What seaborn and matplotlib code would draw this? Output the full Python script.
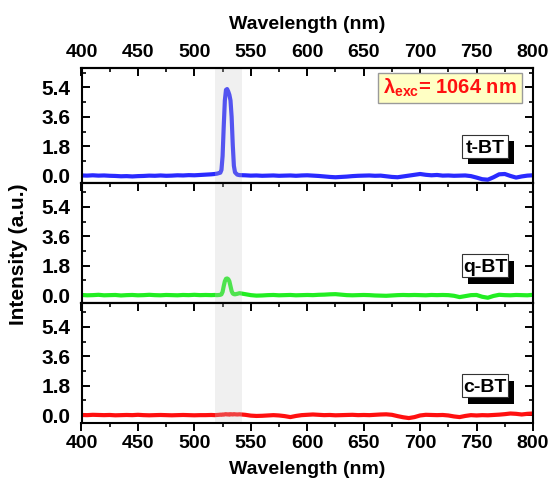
import matplotlib
matplotlib.use("Agg")
import matplotlib.pyplot as plt
from matplotlib.patches import Rectangle
from matplotlib.ticker import MultipleLocator, FixedLocator
import seaborn as sns
import pandas as pd

# Wavelength grid (nm): coarse baseline, finer sampling across the emission line
wavelength = [400, 405, 410, 415, 420, 425, 430, 435, 440, 445, 450, 455,
              460, 465, 470, 475, 480, 485, 490, 495, 500, 505, 510, 515,
              518, 520, 522, 523, 524, 525, 526, 527, 528, 529, 530, 531,
              532, 533, 534, 535, 536, 538, 540,
              545, 550, 555, 560, 565, 570, 575, 580, 585, 590, 595, 600,
              605, 610, 615, 620, 625, 630, 635, 640, 645, 650, 655, 660,
              665, 670, 675, 680, 685, 690, 695, 700, 705, 710, 715, 720,
              725, 730, 735, 740, 745, 750, 755, 760, 765, 770, 775, 780,
              785, 790, 795, 800]

t_bt = [0.01, 0.00, 0.02, 0.00, 0.01, -0.01, -0.02, -0.04, -0.03, -0.05, -0.03, -0.02,
        0.00, -0.01, 0.01, -0.01, 0.00, 0.02, 0.01, 0.03, 0.02, 0.04, 0.06, 0.08,
        0.10, 0.12, 0.16, 0.18, 0.35, 1.20, 3.00, 4.60, 5.25, 5.30, 5.15, 4.95,
        4.60, 3.60, 1.90, 0.60, 0.20, 0.06, 0.03,
        0.02, 0.00, 0.01, -0.01, 0.00, 0.01, -0.01, 0.00, 0.01, -0.01, 0.01, 0.02,
        0.00, -0.02, -0.05, -0.08, -0.10, -0.08, -0.06, -0.03, -0.01, 0.00, 0.01, -0.01,
        0.00, -0.04, -0.08, -0.10, -0.05, 0.00, 0.05, 0.10, 0.05, 0.02, 0.04, 0.00,
        0.01, -0.01, 0.00, 0.01, -0.03, -0.12, -0.22, -0.25, -0.10, 0.08, 0.10, -0.02,
        -0.12, -0.05, 0.00, 0.02]

q_bt = [0.01, -0.01, 0.00, 0.02, -0.01, 0.00, 0.01, -0.02, 0.00, 0.01, -0.01, 0.00,
        0.02, 0.00, -0.01, 0.01, 0.00, -0.01, 0.01, 0.00, 0.02, 0.00, 0.01, 0.00,
        0.01, 0.00, 0.01, 0.02, 0.05, 0.20, 0.55, 0.85, 1.00, 1.02, 0.98, 0.85,
        0.55, 0.25, 0.10, 0.06, 0.05, 0.08, 0.12,
        0.06, 0.00, -0.03, -0.02, 0.00, 0.01, -0.01, 0.00, 0.01, -0.01, 0.00, 0.01,
        0.00, 0.02, 0.03, 0.05, 0.06, 0.03, 0.00, -0.01, 0.00, 0.01, 0.00, -0.02,
        -0.03, -0.04, -0.02, 0.00, 0.01, 0.00, 0.01, 0.00, -0.01, 0.01, 0.00, 0.01,
        0.00, -0.04, -0.12, -0.06, 0.00, 0.01, -0.10, -0.16, -0.05, 0.02, 0.00, -0.01,
        0.01, 0.00, -0.01, 0.02]

c_bt = [0.01, 0.00, 0.02, 0.01, 0.00, 0.01, -0.01, 0.00, 0.01, 0.00, 0.02, 0.00,
        -0.01, 0.00, 0.01, 0.00, -0.01, 0.00, 0.01, 0.00, -0.01, 0.00, 0.00, 0.01,
        0.00, 0.01, 0.02, 0.03, 0.02, 0.04, 0.03, 0.05, 0.06, 0.04, 0.05, 0.03,
        0.06, 0.05, 0.04, 0.06, 0.05, 0.04, 0.05,
        0.02, -0.03, -0.05, -0.04, -0.02, 0.00, -0.02, -0.06, -0.12, -0.05, 0.00, 0.02,
        0.04, 0.02, 0.00, 0.01, -0.01, 0.00, 0.01, 0.02, 0.00, 0.01, 0.00, 0.02,
        0.04, 0.05, 0.02, -0.06, -0.13, -0.18, -0.12, -0.02, 0.02, 0.01, 0.00, 0.01,
        -0.02, -0.08, -0.12, -0.05, 0.00, -0.02, 0.00, -0.01, 0.01, 0.03, 0.06, 0.10,
        0.08, 0.04, 0.08, 0.10]

samples = ["t-BT", "q-BT", "c-BT"]
colors = ["#2a2aff", "#22ee22", "#ff1010"]
ytick_values = [0.0, 1.8, 3.6, 5.4]
xtick_values = [400, 450, 500, 550, 600, 650, 700, 750, 800]
band = (518, 542)

sns.set_theme(style="ticks")
plt.rcParams["font.family"] = ["Liberation Sans", "DejaVu Sans"]
plt.rcParams["font.weight"] = "bold"
plt.rcParams["axes.labelweight"] = "bold"
plt.rcParams["text.color"] = "black"
plt.rcParams["axes.labelcolor"] = "black"
plt.rcParams["xtick.color"] = "black"
plt.rcParams["ytick.color"] = "black"
plt.rcParams["xtick.labelcolor"] = "black"
plt.rcParams["ytick.labelcolor"] = "black"
plt.rcParams["mathtext.fontset"] = "custom"
plt.rcParams["mathtext.rm"] = "Liberation Sans:bold"
plt.rcParams["mathtext.it"] = "Liberation Sans"
plt.rcParams["mathtext.bf"] = "Liberation Sans:bold"
plt.rcParams["axes.linewidth"] = 1.5
plt.rcParams["axes.edgecolor"] = "black"

W, H = 550, 483
fig = plt.figure(figsize=(W / 100, H / 100), dpi=100)


def fx(px):
    return px / W


def fy(py):
    return 1 - py / H


gs = fig.add_gridspec(3, 1, left=fx(81.5), right=fx(533), top=fy(68.3),
                      bottom=fy(423.3), hspace=0, height_ratios=[115, 120, 120])

ylims = [(-0.47, 6.57), (-0.5, 6.85), (-0.5, 6.85)]
series = [t_bt, q_bt, c_bt]
FS = 14

axes = []
for i, (name, vals, col) in enumerate(zip(samples, series, colors)):
    ax = fig.add_subplot(gs[i])
    axes.append(ax)
    df = pd.DataFrame({"Wavelength": wavelength, "Intensity": vals})
    sns.lineplot(data=df, x="Wavelength", y="Intensity", ax=ax, color=col,
                 lw=3.0, zorder=2)
    ax.axvspan(*band, color="#c8c8c8", alpha=0.27, lw=0, zorder=2.2)
    ax.set_xlim(400, 800)
    ax.set_ylim(*ylims[i])
    ax.set_xlabel("")
    ax.set_ylabel("")
    ax.yaxis.set_major_locator(FixedLocator(ytick_values))
    ax.set_yticklabels([f"{v:.1f}" for v in ytick_values], fontsize=15,
                       fontweight="bold", color="black")
    ax.yaxis.set_minor_locator(MultipleLocator(0.9))
    ax.tick_params(axis="y", which="both", direction="in", left=True, right=True,
                   colors="black")
    ax.tick_params(axis="y", which="major", length=5.5, width=1.4, pad=8)
    ax.tick_params(axis="y", which="minor", length=3.2, width=1.2)
    ax.xaxis.set_major_locator(FixedLocator(xtick_values))
    ax.xaxis.set_minor_locator(MultipleLocator(25))

    # ticks along the top edge of every panel point inwards
    sec = ax.secondary_xaxis("top")
    sec.xaxis.set_major_locator(FixedLocator(xtick_values))
    sec.xaxis.set_minor_locator(MultipleLocator(25))
    sec.tick_params(axis="x", which="both", direction="in", colors="black")
    sec.tick_params(axis="x", which="major", length=5.5, width=1.4, pad=5)
    sec.tick_params(axis="x", which="minor", length=3.2, width=1.2)
    sec.spines["top"].set_linewidth(1.5)
    if i == 0:
        sec.set_xticklabels([str(v) for v in xtick_values], fontsize=FS,
                            fontweight="bold", color="black")
        sec.set_xlabel("Wavelength (nm)", fontsize=FS, fontweight="bold",
                       labelpad=11, color="black")
    else:
        sec.set_xticklabels([])

    if i == 2:
        ax.tick_params(axis="x", which="both", direction="out", bottom=True, top=False,
                       colors="black")
        ax.tick_params(axis="x", which="major", length=5.5, width=1.4, pad=3)
        ax.tick_params(axis="x", which="minor", length=3.2, width=1.2)
        ax.set_xticklabels([str(v) for v in xtick_values], fontsize=FS,
                           fontweight="bold", color="black")
        ax.set_xlabel("Wavelength (nm)", fontsize=FS, fontweight="bold",
                      labelpad=6.5, color="black")
    else:
        ax.tick_params(axis="x", which="both", bottom=False, top=False,
                       labelbottom=False)

fig.text(fx(19), fy(254), "Intensity (a.u.)", rotation=90, ha="center", va="center",
         fontsize=15, fontweight="bold", color="black")

# sample tags with drop shadow, centred on the 1.8 level of each panel
for ax, name in zip(axes, samples):
    cy = ax.transData.transform((600, 1.8))[1]
    cy_px = H - cy
    x0, x1 = 461.7, 508.3
    h = 23.3
    y0 = cy_px - h / 2
    shadow = Rectangle((fx(x0 + 6), fy(y0 + h + 6.5)), fx(x1) - fx(x0), h / H,
                       transform=fig.transFigure, facecolor="black", edgecolor="black",
                       lw=0, zorder=10)
    box = Rectangle((fx(x0), fy(y0 + h)), fx(x1) - fx(x0), h / H,
                    transform=fig.transFigure, facecolor="white", edgecolor="#333333",
                    lw=0.8, zorder=11)
    fig.add_artist(shadow)
    fig.add_artist(box)
    fig.text(fx((x0 + x1) / 2), fy(y0 + h / 2), name, ha="center", va="center_baseline",
             fontsize=FS, fontweight="bold", color="black", zorder=12)

# excitation wavelength note
bx0, bx1, by0, by1 = 378.3, 521.7, 72.7, 103.3
fig.add_artist(Rectangle((fx(bx0), fy(by1)), fx(bx1) - fx(bx0), (by1 - by0) / H,
                         transform=fig.transFigure, facecolor="#ffffc4",
                         edgecolor="#9a9a9a", lw=1.0, zorder=10))
fig.text(fx((bx0 + bx1) / 2), fy((by0 + by1) / 2), r"$\lambda_{\mathrm{exc}}$= 1064 nm",
         ha="center", va="center", fontsize=FS + 0.5, fontweight="bold",
         color="#ff1010", zorder=12)

fig.savefig("out.png", dpi=100)
